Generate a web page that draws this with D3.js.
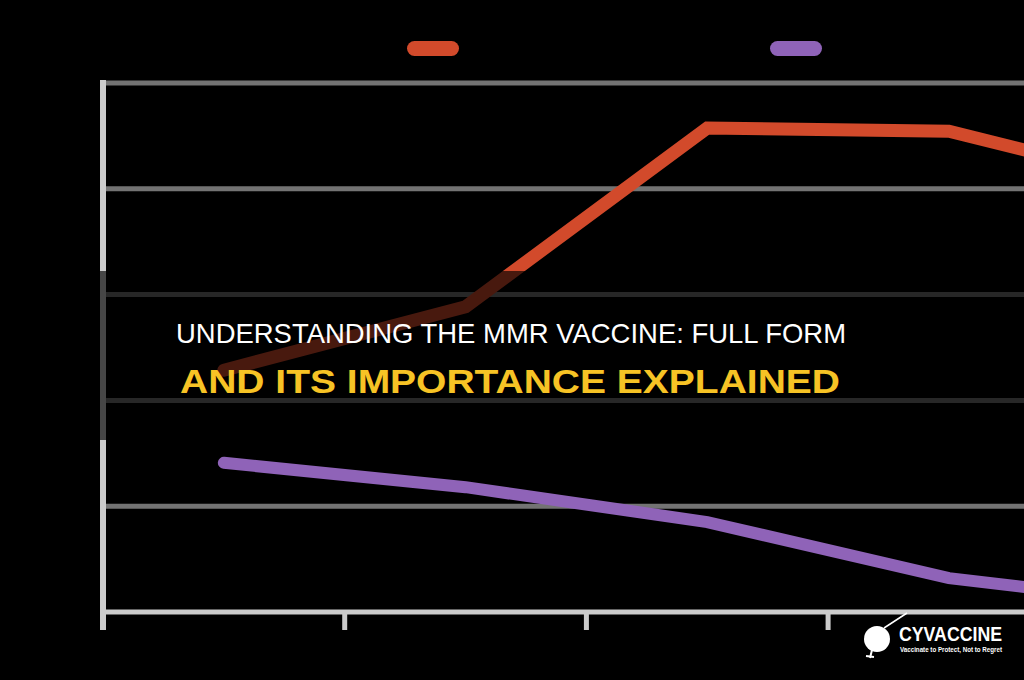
<!DOCTYPE html>
<html>
<head>
<meta charset="utf-8">
<script src="https://cdn.jsdelivr.net/npm/d3@7"></script>
<style>
  html, body { margin: 0; padding: 0; background: #000; overflow: hidden; }
  svg { display: block; }
</style>
</head>
<body>
<svg id="chart" width="1024" height="680"></svg>
<script>
// ---- data ----
const categories = ["Period 1", "Period 2", "Period 3", "Period 4", "Period 5"];
const seriesNames = ["Series A", "Series B"];
const seriesA = [45.7, 57.7, 91.5, 90.9, 79.5];
const seriesB = [28.2, 23.6, 17.0, 6.4, 1.0];
const yTicks = [0, 20, 40, 60, 80, 100];
const titleLine1 = "UNDERSTANDING THE MMR VACCINE: FULL FORM";
const titleLine2 = "AND ITS IMPORTANCE EXPLAINED";
const brandName = "CYVACCINE";
const brandTagline = "Vaccinate to Protect, Not to Regret";

const colors = ["#d24a2b", "#8f63b8"];

const W = 1024, H = 680;
const svg = d3.select("#chart");
svg.append("rect").attr("width", W).attr("height", H).attr("fill", "#000");

const x = d3.scaleBand().domain(categories).range([103, 103 + 5 * 241.7]).paddingInner(0).paddingOuter(0);
const y = d3.scaleLinear().domain([0, 100]).range([612, 83]);

// gridlines
const grid = svg.append("g");
grid.selectAll("line").data(yTicks.filter(d => d > 0)).join("line")
  .attr("x1", 100).attr("x2", W)
  .attr("y1", d => y(d)).attr("y2", d => y(d))
  .attr("stroke", "#737373").attr("stroke-width", 5);

// x axis with ticks at band edges
const edges = categories.map(c => x(c));
svg.append("line").attr("x1", 100).attr("x2", W).attr("y1", y(0)).attr("y2", y(0))
  .attr("stroke", "#cccccc").attr("stroke-width", 5);
svg.append("g").selectAll("line").data(edges).join("line")
  .attr("x1", d => d).attr("x2", d => d)
  .attr("y1", y(0)).attr("y2", 630)
  .attr("stroke", "#cccccc").attr("stroke-width", 5);
// y axis
svg.append("line").attr("x1", 103).attr("x2", 103).attr("y1", 80).attr("y2", 630)
  .attr("stroke", "#cccccc").attr("stroke-width", 6);

// lines
const line = d3.line().x((d, i) => x(categories[i]) + x.bandwidth() / 2).y(d => y(d));
[seriesA, seriesB].forEach((s, i) => {
  svg.append("path").datum(s)
    .attr("d", line)
    .attr("fill", "none")
    .attr("stroke", colors[i])
    .attr("stroke-width", i === 0 ? 13 : 12)
    .attr("stroke-linejoin", "miter")
    .attr("stroke-linecap", "round");
});

// legend swatches
const legendX = [407, 770];
svg.append("g").selectAll("rect").data(seriesNames).join("rect")
  .attr("x", (d, i) => legendX[i]).attr("y", 41)
  .attr("width", 52).attr("height", 15).attr("rx", 7.5)
  .attr("fill", (d, i) => colors[i]);

// title band
svg.append("rect").attr("x", 0).attr("y", 271).attr("width", W).attr("height", 169)
  .attr("fill", "#000").attr("opacity", 0.66);
svg.append("text").attr("x", 176).attr("y", 343)
  .attr("font-family", "'Liberation Sans', Arial, sans-serif")
  .attr("font-size", 28).attr("fill", "#ffffff")
  .attr("textLength", 670).attr("lengthAdjust", "spacingAndGlyphs")
  .text(titleLine1);
svg.append("text").attr("x", 180).attr("y", 393)
  .attr("font-family", "'Liberation Sans', Arial, sans-serif")
  .attr("font-weight", "bold")
  .attr("font-size", 33.5).attr("fill", "#f7c325")
  .attr("textLength", 660).attr("lengthAdjust", "spacingAndGlyphs")
  .text(titleLine2);

// watermark
const wm = svg.append("g");
wm.append("line").attr("x1", 884).attr("y1", 628).attr("x2", 907).attr("y2", 613)
  .attr("stroke", "#ffffff").attr("stroke-width", 1.5);
wm.append("circle").attr("cx", 877).attr("cy", 639).attr("r", 13).attr("fill", "#ffffff");
wm.append("path").attr("d", "M872,650 L870,658 M866,656 L874,657")
  .attr("stroke", "#ffffff").attr("stroke-width", 2).attr("fill", "none");
wm.append("text").attr("x", 899).attr("y", 641)
  .attr("font-family", "'Liberation Sans Narrow', 'Arial Narrow', 'Liberation Sans', sans-serif")
  .attr("font-weight", "bold").attr("font-size", 21).attr("fill", "#ffffff")
  .attr("textLength", 103).attr("lengthAdjust", "spacingAndGlyphs")
  .text(brandName);
wm.append("text").attr("x", 900).attr("y", 652)
  .attr("font-family", "'Liberation Sans', sans-serif")
  .attr("font-weight", "bold").attr("font-size", 7).attr("fill", "#ffffff")
  .attr("textLength", 102).attr("lengthAdjust", "spacingAndGlyphs")
  .text(brandTagline);
</script>
</body>
</html>
